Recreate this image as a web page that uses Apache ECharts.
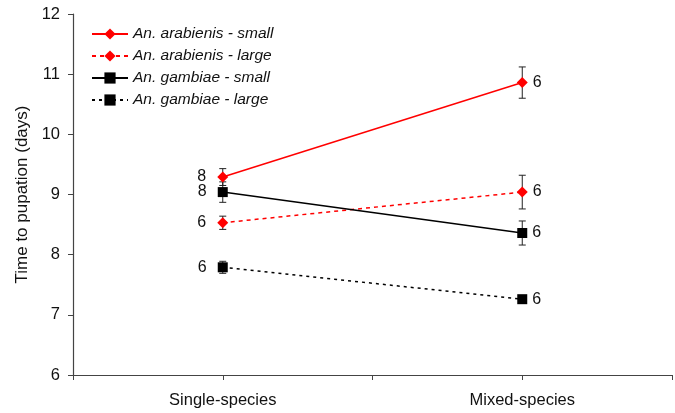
<!DOCTYPE html>
<html><head><meta charset="utf-8">
<script src="https://cdn.jsdelivr.net/npm/echarts@6/dist/echarts.min.js"></script>
<style>html,body{margin:0;padding:0;background:#fff}#c{width:675px;height:413px}</style>
</head><body><div id="c"></div>
<script>
const xPositions = [1, 3];
const xLabels = ['Single-species', 'Mixed-species'];
const seriesNames = ['An. arabienis - small', 'An. arabienis - large', 'An. gambiae - small', 'An. gambiae - large'];
const arabSmall = [9.29, 10.86];
const arabLarge = [8.53, 9.04];
const gambSmall = [9.04, 8.36];
const gambLarge = [7.79, 7.26];
const arabSmallErr = [0.14, 0.26];
const arabLargeErr = [0.11, 0.28];
const gambSmallErr = [0.17, 0.2];
const gambLargeErr = [0.1, 0.06];
const arabSmallN = [8, 6];
const arabLargeN = [6, 6];
const gambSmallN = [8, 6];
const gambLargeN = [6, 6];
const yTicks = [6, 7, 8, 9, 10, 11, 12];

const font = 'Liberation Sans, Arial, sans-serif';

function lineSeries(name, vals, ns, color, symbol, size, type) {
  return {
    name, type: 'line', symbol, symbolSize: size,
    itemStyle: { color },
    lineStyle: { color, width: 1.5, type },
    z: 3,
    data: vals.map((v, i) => ({
      value: [xPositions[i], v],
      label: {
        show: true, position: i === 0 ? 'left' : 'right',
        distance: i === 0 ? 11 : 5,
        formatter: String(ns[i]),
        color: '#111', fontSize: 16, fontFamily: font
      }
    }))
  };
}
function errSeries(vals, errs) {
  return {
    type: 'custom', silent: true, z: 2,
    data: vals.map((v, i) => [xPositions[i], v, errs[i]]),
    renderItem: function (params, api) {
      const x = api.value(0), y = api.value(1), e = api.value(2);
      const top = api.coord([x, y + e]);
      const bot = api.coord([x, y - e]);
      const w = 3.5;
      const st = { stroke: '#222', lineWidth: 1 };
      return { type: 'group', children: [
        { type: 'line', shape: { x1: top[0], y1: top[1], x2: bot[0], y2: bot[1] }, style: st },
        { type: 'line', shape: { x1: top[0] - w, y1: top[1], x2: top[0] + w, y2: top[1] }, style: st },
        { type: 'line', shape: { x1: bot[0] - w, y1: bot[1], x2: bot[0] + w, y2: bot[1] }, style: st }
      ]};
    }
  };
}

const chart = echarts.init(document.getElementById('c'), null, { renderer: 'canvas' });
chart.setOption({
  animation: false,
  textStyle: { fontFamily: font },
  grid: { left: 73, right: 2, top: 14, bottom: 38 },
  legend: {
    orient: 'vertical', left: 86, top: 21, itemGap: 6, itemWidth: 36, itemHeight: 14,
    data: seriesNames,
    textStyle: { fontStyle: 'italic', fontSize: 15.5, color: '#111', fontFamily: font }
  },
  xAxis: {
    type: 'value', min: 0, max: 4, interval: 1,
    splitLine: { show: false },
    axisLine: { lineStyle: { color: '#444', width: 1.2 } },
    axisTick: { length: 5, lineStyle: { color: '#444' } },
    axisLabel: {
      fontSize: 16.5, color: '#111', margin: 17, fontFamily: font,
      formatter: v => { const k = xPositions.indexOf(v); return k >= 0 ? xLabels[k] : ''; }
    }
  },
  yAxis: {
    type: 'value', min: yTicks[0], max: yTicks[yTicks.length - 1], interval: 1,
    name: 'Time to pupation (days)', nameLocation: 'middle', nameGap: 38,
    nameTextStyle: { fontSize: 17, color: '#111', fontFamily: font },
    splitLine: { show: false },
    axisLine: { show: true, lineStyle: { color: '#444', width: 1.2 } },
    axisTick: { show: true, length: 5, lineStyle: { color: '#444' } },
    axisLabel: { fontSize: 16.5, color: '#111', margin: 13, fontFamily: font }
  },
  series: [
    errSeries(arabSmall, arabSmallErr),
    errSeries(arabLarge, arabLargeErr),
    errSeries(gambSmall, gambSmallErr),
    errSeries(gambLarge, gambLargeErr),
    lineSeries(seriesNames[0], arabSmall, arabSmallN, '#ff0000', 'diamond', 11, 'solid'),
    lineSeries(seriesNames[1], arabLarge, arabLargeN, '#ff0000', 'diamond', 11, [4, 4]),
    lineSeries(seriesNames[2], gambSmall, gambSmallN, '#000000', 'rect', 10, 'solid'),
    lineSeries(seriesNames[3], gambLarge, gambLargeN, '#000000', 'rect', 10, [3, 4])
  ]
});
</script></body></html>
